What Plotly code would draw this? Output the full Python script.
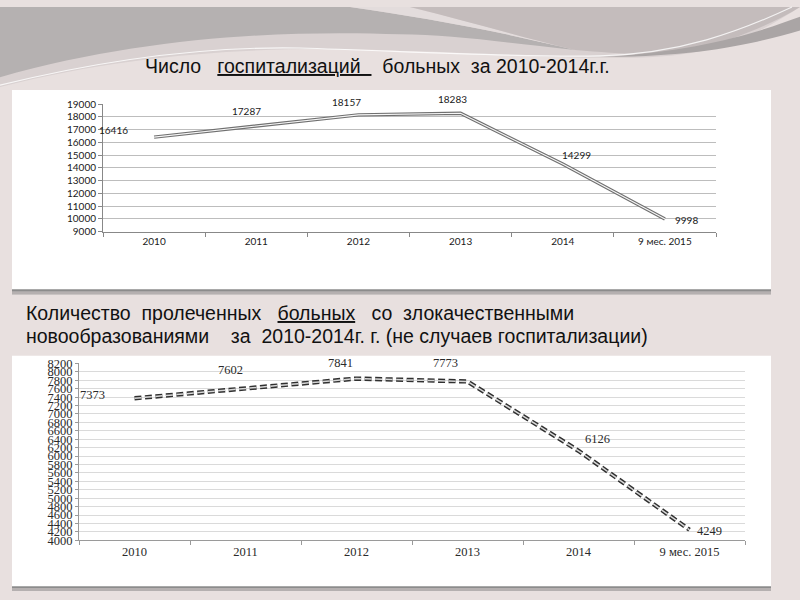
import plotly.graph_objects as go

# ---------------- data ----------------
categories = ["2010", "2011", "2012", "2013", "2014", "9 мес. 2015"]
hosp_values = [16416, 17287, 18157, 18283, 14299, 9998]
treated_values = [7373, 7602, 7841, 7773, 6126, 4249]
top_yticks = list(range(9000, 19001, 1000))
bottom_yticks = list(range(4000, 8201, 200))

title1_parts = ["Число", "госпитализаций", "больных", "за 2010-2014г.г."]
title2_line1 = ["Количество", "пролеченных", "больных", "со", "злокачественными"]
title2_line2 = "новообразованиями\u00a0\u00a0\u00a0\u00a0за\u00a0\u00a02010-2014г. г. (не случаев госпитализации)"

W, H = 800, 600
def px(x): return x / W
def py(y): return 1 - y / H

def _cmds(cmds):
    out = []
    for c in cmds:
        op, pts = c[0], c[1:]
        s = op
        for (x, y) in pts:
            s += " %.5f,%.5f" % (px(x), py(y))
        out.append(s)
    return " ".join(out)

def path(cmds): return _cmds(cmds) + " Z"
def openpath(cmds): return _cmds(cmds)

fig = go.Figure()

# ---------- top chart: double line ----------
fig.add_trace(go.Scatter(x=categories, y=hosp_values, mode="lines",
                         line=dict(color="#707070", width=3.4),
                         xaxis="x", yaxis="y", hoverinfo="skip", showlegend=False))
fig.add_trace(go.Scatter(x=categories, y=hosp_values, mode="lines",
                         line=dict(color="#f6f6f6", width=1.1),
                         xaxis="x", yaxis="y", hoverinfo="skip", showlegend=False))

# ---------- bottom chart: dashed double line ----------
fig.add_trace(go.Scatter(x=categories, y=treated_values, mode="lines",
                         line=dict(color="#303030", width=4.4, dash="7px,3.5px"),
                         xaxis="x2", yaxis="y2", hoverinfo="skip", showlegend=False))
fig.add_trace(go.Scatter(x=categories, y=treated_values, mode="lines",
                         line=dict(color="#d8d8d8", width=1.5, dash="7px,3.5px"),
                         xaxis="x2", yaxis="y2", hoverinfo="skip", showlegend=False))

# ---------- background shapes ----------
shapes = []
shapes.append(dict(type="path", xref="paper", yref="paper", layer="below",
    path=path([("M", (0, 0)), ("L", (800, 0), (800, 25)),
               ("C", (740, 40), (700, 52), (620, 52)),
               ("C", (520, 52), (450, 45), (400, 45)),
               ("C", (300, 40), (150, 42), (0, 82))]),
    fillcolor="#d9d1d1", line=dict(width=0)))
shapes.append(dict(type="path", xref="paper", yref="paper", layer="below",
    path=path([("M", (0, 0)), ("L", (350, 0)),
               ("C", (420, 10), (500, 25), (575, 44)),
               ("C", (500, 36), (450, 28), (400, 28)),
               ("C", (300, 24), (150, 28), (0, 72))]),
    fillcolor="#b5b1b1", line=dict(width=0)))
shapes.append(dict(type="path", xref="paper", yref="paper", layer="below",
    path=path([("M", (350, 0)), ("L", (410, 0)),
               ("C", (470, 15), (525, 32), (575, 44)),
               ("C", (500, 25), (420, 10), (350, 0))]),
    fillcolor="#e3dcdc", line=dict(width=0)))
shapes.append(dict(type="path", xref="paper", yref="paper", layer="below",
    path=path([("M", (410, 0)), ("L", (800, 0), (800, 8)),
               ("C", (760, 25), (700, 48), (650, 48)),
               ("C", (620, 48), (600, 46), (575, 44)),
               ("C", (525, 32), (470, 15), (410, 0))]),
    fillcolor="#c4bcbc", line=dict(width=0)))
shapes.append(dict(type="path", xref="paper", yref="paper", layer="below",
    path=path([("M", (600, 51)),
               ("C", (700, 46), (760, 25), (800, 10)),
               ("L", (800, 24)),
               ("C", (760, 36), (700, 52), (600, 51))]),
    fillcolor="#aaa5a5", line=dict(width=0)))
shapes.append(dict(type="path", xref="paper", yref="paper", layer="below",
    path=openpath([("M", (0, 80)), ("C", (100, 55), (200, 40), (300, 42)),
                   ("C", (400, 45), (520, 52), (600, 50)),
                   ("C", (680, 48), (740, 25), (792, 0))]),
    line=dict(color="rgba(255,255,255,0.8)", width=1.2)))

for (x0, y0, x1, y1) in [(12, 85, 771, 289), (12, 357, 771, 593)]:
    shapes.append(dict(type="rect", xref="paper", yref="paper", layer="below",
        x0=px(x0), x1=px(x1), y0=py(y1 + 5), y1=py(y1 - 1),
        fillcolor="#8c8c8c", line=dict(width=0)))
    shapes.append(dict(type="rect", xref="paper", yref="paper", layer="below",
        x0=px(x0), x1=px(x1), y0=py(y1 + 2), y1=py(y1 + 5),
        fillcolor="#b5b0b0", line=dict(width=0)))
    shapes.append(dict(type="rect", xref="paper", yref="paper", layer="below",
        x0=px(x0), x1=px(x1), y0=py(y1), y1=py(y0),
        fillcolor="#ffffff", line=dict(width=0)))

# ---------- annotations ----------
ann = []
top_off = [(-41, 7), (-10, 15), (-12, 13), (-8, 14), (14, 9), (22, -1)]
for i, (v, (dx, dy)) in enumerate(zip(hosp_values, top_off)):
    ann.append(dict(x=i, y=v, xref="x", yref="y", text=str(v), showarrow=False,
                    xshift=dx, yshift=dy, font=dict(family="Lato", size=10, color="#1a1a1a")))
bot_off = [(-42, 3), (-15, 19), (-16, 16), (-22, 18), (19, 12), (20, -1)]
for i, (v, (dx, dy)) in enumerate(zip(treated_values, bot_off)):
    ann.append(dict(x=i, y=v, xref="x2", yref="y2", text=str(v), showarrow=False,
                    xshift=dx, yshift=dy, font=dict(family="Liberation Serif", size=12.5, color="#2a2a2a")))

U = "<span style='text-decoration:underline'>%s</span>"
nb = "\u00a0"
title1 = (title1_parts[0] + nb * 3 + U % (title1_parts[1] + nb * 2) + nb * 2 +
          title1_parts[2] + nb * 2 + title1_parts[3])
ann.append(dict(x=px(377), y=py(60), xref="paper", yref="paper", text=title1,
                showarrow=False, xanchor="center", yanchor="middle",
                font=dict(family="Liberation Sans Narrow, Liberation Sans", size=19.5, color="#111111")))
t2l1 = (title2_line1[0] + nb * 2 + title2_line1[1] + nb * 3 + U % title2_line1[2] + nb * 3 +
        title2_line1[3] + nb * 2 + title2_line1[4])
ann.append(dict(x=px(24), y=py(313), xref="paper", yref="paper", text=t2l1,
                showarrow=False, xanchor="left", yanchor="middle",
                font=dict(family="Liberation Sans Narrow, Liberation Sans", size=19.5, color="#111111")))
ann.append(dict(x=px(24), y=py(337), xref="paper", yref="paper", text=title2_line2,
                showarrow=False, xanchor="left", yanchor="middle",
                font=dict(family="Liberation Sans Narrow, Liberation Sans", size=19.5, color="#111111")))

fig.update_layout(
    width=W, height=H, margin=dict(l=0, r=0, t=0, b=0),
    paper_bgcolor="#e8e0df", plot_bgcolor="rgba(0,0,0,0)",
    showlegend=False, shapes=shapes, annotations=ann,
    xaxis=dict(domain=[px(103), px(716)], type="category", categoryorder="array",
               categoryarray=categories, range=[-0.5, 5.5], tickson="boundaries",
               ticks="outside", ticklen=4, tickcolor="#888888", showline=True,
               linecolor="#888888", linewidth=1, showgrid=False, anchor="y",
               tickangle=0, tickfont=dict(family="Lato", size=10, color="#1a1a1a")),
    yaxis=dict(domain=[py(230), py(99.5)], range=[9000, 19000], tickvals=top_yticks,
               tickformat="d", ticks="outside", ticklen=4, tickcolor="#888888",
               showline=True, linecolor="#888888", gridcolor="#bdbdbd", gridwidth=1,
               zeroline=False, anchor="x",
               tickfont=dict(family="Lato", size=10, color="#1a1a1a")),
    xaxis2=dict(domain=[px(79), px(745)], type="category", categoryorder="array",
                categoryarray=categories, range=[-0.5, 5.5], tickson="boundaries",
                ticks="outside", ticklen=4, tickcolor="#9a9a9a", showline=True,
                linecolor="#9a9a9a", linewidth=1, showgrid=False, anchor="y2",
                tickangle=0, tickfont=dict(family="Liberation Serif", size=12.5, color="#2a2a2a")),
    yaxis2=dict(domain=[py(546), py(365)], range=[4000, 8200], tickvals=bottom_yticks,
                tickformat="d", ticks="outside", ticklen=3, tickcolor="#9a9a9a",
                showline=True, linecolor="#9a9a9a", gridcolor="#dadada", gridwidth=1,
                zeroline=False, anchor="x2",
                tickfont=dict(family="Liberation Serif", size=12.5, color="#2a2a2a")),
)

fig.write_html("out.html", config={"displayModeBar": False},
               post_script="document.body.style.margin='0';document.body.style.background='#e8e0df';")
